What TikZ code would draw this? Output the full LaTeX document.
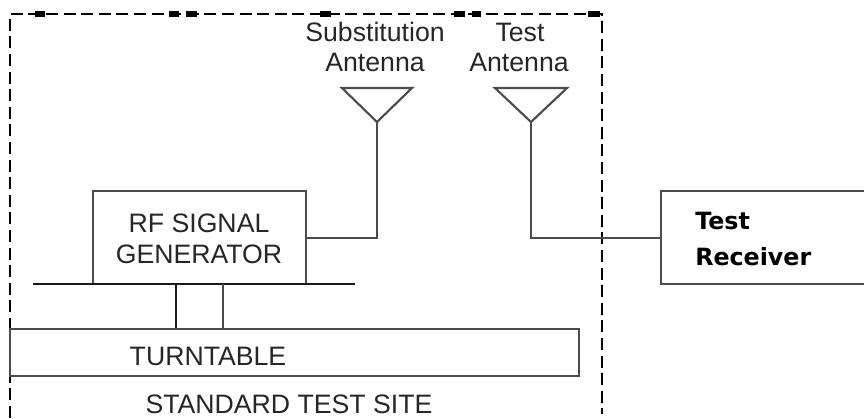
\documentclass[tikz,border=0pt]{standalone}
\usepackage{fontspec}
\setmainfont{Liberation Sans}
\newfontfamily\rxfont{DejaVu Sans}[BoldFont={DejaVu Sans Bold}]
\tikzset{
  x=0.75pt,y=-0.75pt,
  wire/.style={draw=black!70,line width=1.6pt},
  solidline/.style={draw=black!90,line width=1.4pt},
  boxed/.style={draw=black!70,line width=1.6pt,inner sep=0pt,fill=none},
  site/.style={draw=black,line width=1.3pt,dash pattern=on 9pt off 4.2pt},
  tick/.style={fill=black,draw=none},
  label/.style={inner sep=0pt,text=black!85,font=\fontsize{20}{23}\selectfont,anchor=base},
  rxlabel/.style={inner sep=0pt,anchor=base west,font=\rxfont\bfseries\fontsize{17.8}{20}\selectfont},
}
\begin{document}
\begin{tikzpicture}
\useasboundingbox (0,0) rectangle (864,418);
% site boundary (open at the bottom)
\coordinate (sbl) at (10,418);
\coordinate (stl) at (10,14);
\coordinate (str) at (602,14);
\coordinate (sbr) at (602,414);
\draw[site] (sbl) -- (stl) -- (str) -- (sbr);
\foreach \a/\b in {35/45,169/179,186/197,320/331,454/465,472/481,588/600}
  \fill[tick] (\a,11) rectangle (\b,17);
% boxes
\node[boxed,minimum width=160pt,minimum height=69.75pt] (gen) at (199.5,237.5) {};
\node[boxed,minimum width=426.75pt,minimum height=35.25pt] (turn) at (294.5,352.5) {};
\node[boxed,minimum width=156.75pt,minimum height=69.75pt] (rx) at (765.5,237.5) {};
% labels
\node[label] (genA) at (199,232) {RF SIGNAL};
\node[label] (genB) at (199,263) {GENERATOR};
\node[label] (tl) at (208,365) {TURNTABLE};
\node[label] (sl) at (289,413) {STANDARD TEST SITE};
\node[label] (saA) at (375,41) {Substitution};
\node[label] (saB) at (375,71) {Antenna};
\node[label] (taA) at (520,41) {Test};
\node[label] (taB) at (519,71) {Antenna};
\node[rxlabel] (rxA) at (695,229) {Test};
\node[rxlabel] (rxB) at (695,265) {Receiver};
% antennas
\coordinate (a1l) at (342,88); \coordinate (a1r) at (412,88); \coordinate (a1t) at (377,122);
\coordinate (a2l) at (495,88); \coordinate (a2r) at (567,88); \coordinate (a2t) at (531,122);
\draw[wire,line join=miter] (a1l) -- (a1r) -- (a1t) -- cycle;
\draw[wire,line join=miter] (a2l) -- (a2r) -- (a2t) -- cycle;
% feeds
\coordinate (g38) at (gen.east |- 0,238);
\coordinate (r38) at (rx.west |- 0,238);
\draw[wire,line join=miter] (a1t) -- (a1t |- g38) -- (g38);
\draw[wire,line join=miter] (a2t) -- (a2t |- r38) -- (r38);
% platform and legs
\coordinate (pl) at (33,284); \coordinate (pr) at (355,284);
\draw[solidline] (pl) -- (pr);
\coordinate (l1) at (176,284); \coordinate (l2) at (223,284);
\draw[solidline] (l1) -- (l1 |- turn.north);
\draw[wire] (l2) -- (l2 |- turn.north);
\end{tikzpicture}
\end{document}
